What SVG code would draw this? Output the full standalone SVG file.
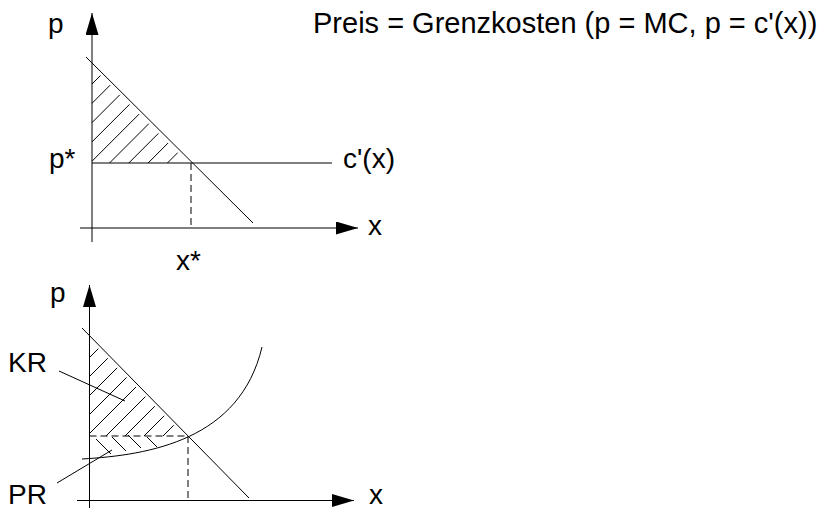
<svg xmlns="http://www.w3.org/2000/svg" width="823" height="508" viewBox="0 0 823 508">
<style>
text{font-family:"Liberation Sans",Arial,sans-serif;font-size:28px;fill:#000}
.title{font-size:29px}
.ln{stroke:#000;stroke-width:1;fill:none}
.ax{stroke:#000;stroke-width:1;fill:none}
.ds{stroke:#000;stroke-width:1;fill:none;stroke-dasharray:7,4}
.ht{stroke:#000;stroke-width:1;fill:none}
</style>
<defs>
<marker id="arr" markerUnits="userSpaceOnUse" markerWidth="22" markerHeight="13" refX="22" refY="6.5" viewBox="0 0 22 13" orient="auto">
<path d="M0,0 L22,6.5 L0,13 z" fill="#000"/>
</marker>
</defs>
<rect width="823" height="508" fill="#fff"/>
<g id="title"><text class="title" x="313" y="33">Preis = Grenzkosten (p = MC, p = c'(x))</text></g>

<g id="top-chart">
<g id="top-axes">
<line class="ax" x1="92" y1="242" x2="92" y2="13" marker-end="url(#arr)"/>
<line class="ax" x1="80" y1="228" x2="358" y2="228" marker-end="url(#arr)"/>
</g>
<g id="top-hatch">
<path class="ht" d="M92,84L100.5,75.5M92,103.3L110.2,85.1M92,122.6L119.8,94.8M92,141.9L129.5,104.4M92,161.2L139.1,114.1M109.5,163L148.8,123.7M128.8,163L158.4,133.4M148.1,163L168.1,143M167.4,163L177.7,152.7"/>
</g>
<g id="top-curves">
<line class="ln" x1="86" y1="57" x2="253" y2="223"/>
<line class="ln" x1="92" y1="163" x2="332" y2="163"/>
<line class="ds" x1="191" y1="163" x2="191" y2="228"/>
</g>
<g id="top-labels">
<text x="48" y="33">p</text>
<text x="49" y="168">p*</text>
<text x="343" y="168">c'(x)</text>
<text x="368" y="235">x</text>
<text x="176" y="270">x*</text>
</g>
</g>

<g id="bottom-chart">
<g id="bottom-axes">
<line class="ax" x1="89.5" y1="508" x2="89.5" y2="285" marker-end="url(#arr)"/>
<line class="ax" x1="77" y1="500.5" x2="354" y2="500.5" marker-end="url(#arr)"/>
</g>
<g id="kr-hatch">
<path class="ht" d="M89.5,357.5L98.3,348.7M89.5,376.5L107.8,358.2M89.5,395.5L117.2,367.8M89.5,414.5L126.6,377.4M89.5,433.5L136,387M106,436L145.4,396.6M125,436L154.8,406.2M144,436L164.2,415.8M163,436L173.7,425.3"/>
</g>
<g id="pr-hatch">
<path class="ht" d="M96,439L111,454M112,437L126,451M128,435L141,448M147,437L157,447"/>
</g>
<g id="bottom-curves">
<line class="ln" x1="82" y1="328" x2="249" y2="498"/>
<path class="ln" d="M82,459 C150,455 240,440 262,347"/>
<line class="ds" x1="89.5" y1="436" x2="187" y2="436"/>
<line class="ds" x1="188" y1="436" x2="188" y2="500"/>
</g>
<g id="leaders">
<line class="ln" x1="59" y1="371" x2="125" y2="401"/>
<line class="ln" x1="57" y1="483" x2="112" y2="450"/>
</g>
<g id="bottom-labels">
<text x="50" y="302">p</text>
<text x="8" y="372">KR</text>
<text x="8" y="504">PR</text>
<text x="369" y="504">x</text>
</g>
</g>
</svg>
